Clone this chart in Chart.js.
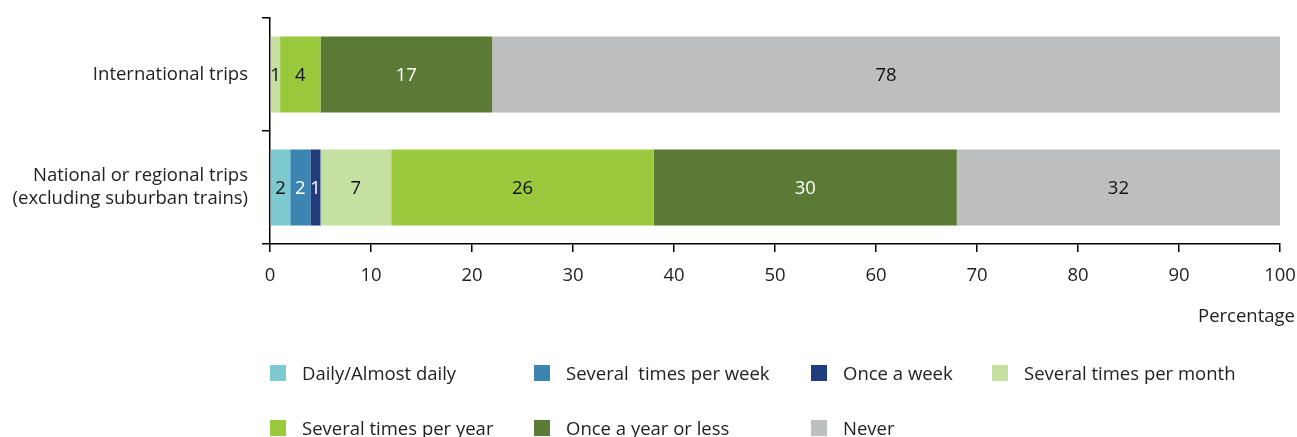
<!DOCTYPE html>
<html>
<head>
<meta charset="utf-8">
<script src="https://cdn.jsdelivr.net/npm/chart.js@4"></script>
<style>
  body { margin: 0; background: #fff; font-family: 'Open Sans', sans-serif; }
  #wrap { position: relative; width: 1297px; height: 437px; overflow: hidden; }
  .leg { position: absolute; font-size: 18.5px; color: #222; white-space: pre; line-height: 20px; }
  .leg span { position: absolute; left: 0; top: 2px; width: 16px; height: 16px; }
  .leg b { font-weight: normal; position: absolute; left: 32px; top: 0; }
  #ptitle { position: absolute; right: 2px; top: 302px; font-size: 18.5px; color: #222; }
</style>
</head>
<body>
<div id="wrap">
  <canvas id="container" width="1297" height="437"></canvas>
  <div id="ptitle">Percentage</div>
</div>
<script>
const categories = ['International trips', ['National or regional trips', '(excluding suburban trains)']];
const seriesNames = ['Daily/Almost daily', 'Several  times per week', 'Once a week', 'Several times per month',
  'Several times per year', 'Once a year or less', 'Never'];
const dailyAlmostDaily = [0, 2];
const severalPerWeek = [0, 2];
const onceAWeek = [0, 1];
const severalPerMonth = [1, 7];
const severalPerYear = [4, 26];
const onceAYearOrLess = [17, 30];
const never = [78, 32];
const xTicks = [0, 10, 20, 30, 40, 50, 60, 70, 80, 90, 100];

const colors = ['#7cc9cf', '#3c84b2', '#203c7c', '#c5e0a0', '#9ac93e', '#5a7a35', '#bdbec0'];
const labelColors = ['#111', '#fff', '#fff', '#111', '#111', '#fff', '#111'];
const values = [dailyAlmostDaily, severalPerWeek, onceAWeek, severalPerMonth, severalPerYear, onceAYearOrLess, never];

// value labels in the middle of each segment
const barLabels = {
  id: 'barLabels',
  afterDatasetsDraw(chart) {
    const ctx = chart.ctx;
    ctx.save();
    ctx.font = '18.5px "Open Sans"';
    ctx.textAlign = 'center';
    ctx.textBaseline = 'middle';
    chart.data.datasets.forEach((ds, i) => {
      chart.getDatasetMeta(i).data.forEach((el, j) => {
        const v = ds.data[j];
        if (!v) return;
        ctx.fillStyle = labelColors[i];
        ctx.fillText(String(v), (el.x + el.base) / 2, el.y + 1);
      });
    });
    ctx.restore();
  }
};

Chart.defaults.font.family = '"Open Sans", sans-serif';

new Chart(document.getElementById('container'), {
  type: 'bar',
  data: {
    labels: categories,
    datasets: seriesNames.map((name, i) => ({
      label: name,
      data: values[i],
      backgroundColor: colors[i],
      borderWidth: 0,
      barPercentage: 1,
      categoryPercentage: 0.673
    }))
  },
  options: {
    indexAxis: 'y',
    responsive: false,
    animation: false,
    layout: { padding: { top: 18, right: 17, left: 0, bottom: 0 } },
    plugins: { legend: { display: false }, tooltip: { enabled: false } },
    scales: {
      x: {
        stacked: true,
        min: 0,
        max: 100,
        afterBuildTicks: s => { s.ticks = xTicks.map(v => ({ value: v })); },
        afterFit: s => { s.height = 193; s.paddingLeft = 0; s.paddingRight = 0; },
        grid: { drawOnChartArea: false, tickLength: 8, color: '#000', lineWidth: 1.5 },
        border: { color: '#000', width: 1.5 },
        ticks: { color: '#222', font: { size: 18.5 }, padding: 13, maxRotation: 0 }
      },
      y: {
        stacked: true,
        afterFit: s => { s.width = 270; s.paddingTop = 0; s.paddingBottom = 0; },
        grid: { drawOnChartArea: false, tickLength: 8, color: '#000', lineWidth: 1.5, offset: true },
        border: { color: '#000', width: 1.5 },
        ticks: { color: '#222', font: { size: 18.5, lineHeight: 1.22 }, padding: 14 }
      }
    }
  },
  plugins: [barLabels]
});

// legend laid out in fixed columns, two rows
const legCols = [270, 534, 811, 992];
const legRows = [363, 418];
const wrap = document.getElementById('wrap');
seriesNames.forEach((name, i) => {
  const d = document.createElement('div');
  d.className = 'leg';
  d.style.left = legCols[i % 4] + 'px';
  d.style.top = legRows[Math.floor(i / 4)] + 'px';
  d.innerHTML = '<span style="background:' + colors[i] + '"></span><b></b>';
  d.querySelector('b').textContent = name;
  wrap.appendChild(d);
});
</script>
</body>
</html>
